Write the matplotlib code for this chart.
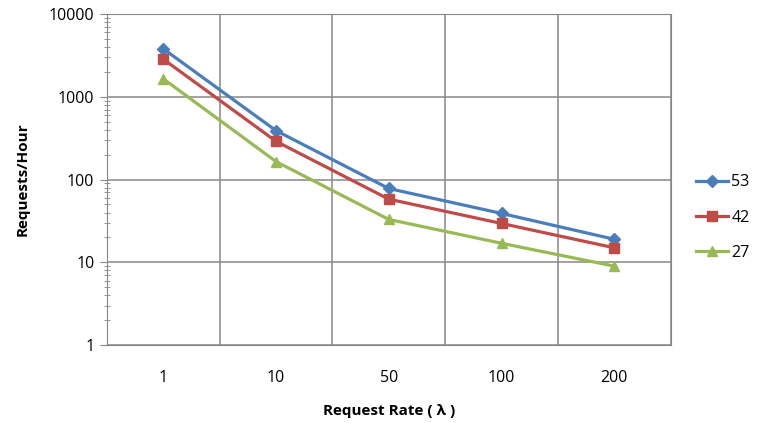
import numpy as np
import matplotlib.pyplot as plt
from matplotlib.ticker import LogLocator, FixedLocator, NullFormatter

plt.rcParams['font.family'] = ['Open Sans', 'DejaVu Sans']

# Data
rates = ['1', '10', '50', '100', '200']
s53 = [3800, 390, 78, 39, 19]
s42 = [2850, 290, 58, 29.5, 15]
s27 = [1650, 165, 33, 17, 9]

fig = plt.figure(figsize=(7.63, 4.23), dpi=100)
ax = fig.add_axes([0.140, 0.184, 0.739, 0.783])

x = np.arange(len(rates))
ax.plot(x, s53, '-D', color='#4A7EBB', lw=2.3, ms=6, label='53')
ax.plot(x, s42, '-s', color='#BE4B48', lw=2.3, ms=7, label='42')
ax.plot(x, s27, '-^', color='#98B954', lw=2.3, ms=7, label='27')

ax.set_yscale('log')
ax.set_ylim(1, 10000)
ax.set_xlim(-0.5, len(rates) - 0.5)
ax.set_yticks([1, 10, 100, 1000, 10000])
ax.set_yticklabels(['1', '10', '100', '1000', '10000'])
ax.yaxis.set_minor_locator(LogLocator(base=10, subs=np.arange(2, 10)))
ax.yaxis.set_minor_formatter(NullFormatter())
ax.set_xticks(x)
ax.set_xticklabels(rates)
ax.xaxis.set_minor_locator(FixedLocator(np.arange(-0.5, len(rates), 1.0)))

ax.grid(True, which='major', axis='y', color='#878787', lw=1.1)
ax.grid(True, which='minor', axis='x', color='#878787', lw=1.1)
ax.tick_params(axis='x', which='both', length=0, pad=18, labelsize=11.5)
ax.tick_params(axis='y', which='major', length=5, direction='out', labelsize=11.5,
               color='#878787', pad=4)
ax.tick_params(axis='y', which='minor', length=4, direction='inout', color='#878787')
for s in ax.spines.values():
    s.set_color('#878787')

ax.set_xlabel('Request Rate ( λ )', fontweight='bold', fontsize=11, labelpad=13)
ax.set_ylabel('Requests/Hour', fontweight='bold', fontsize=11, labelpad=14)

ax.legend(loc='center left', bbox_to_anchor=(1.02, 0.385), frameon=False,
          fontsize=11.5, handlelength=2.0, handletextpad=0.2, labelspacing=1.2)

fig.savefig('out.png', dpi=100)
